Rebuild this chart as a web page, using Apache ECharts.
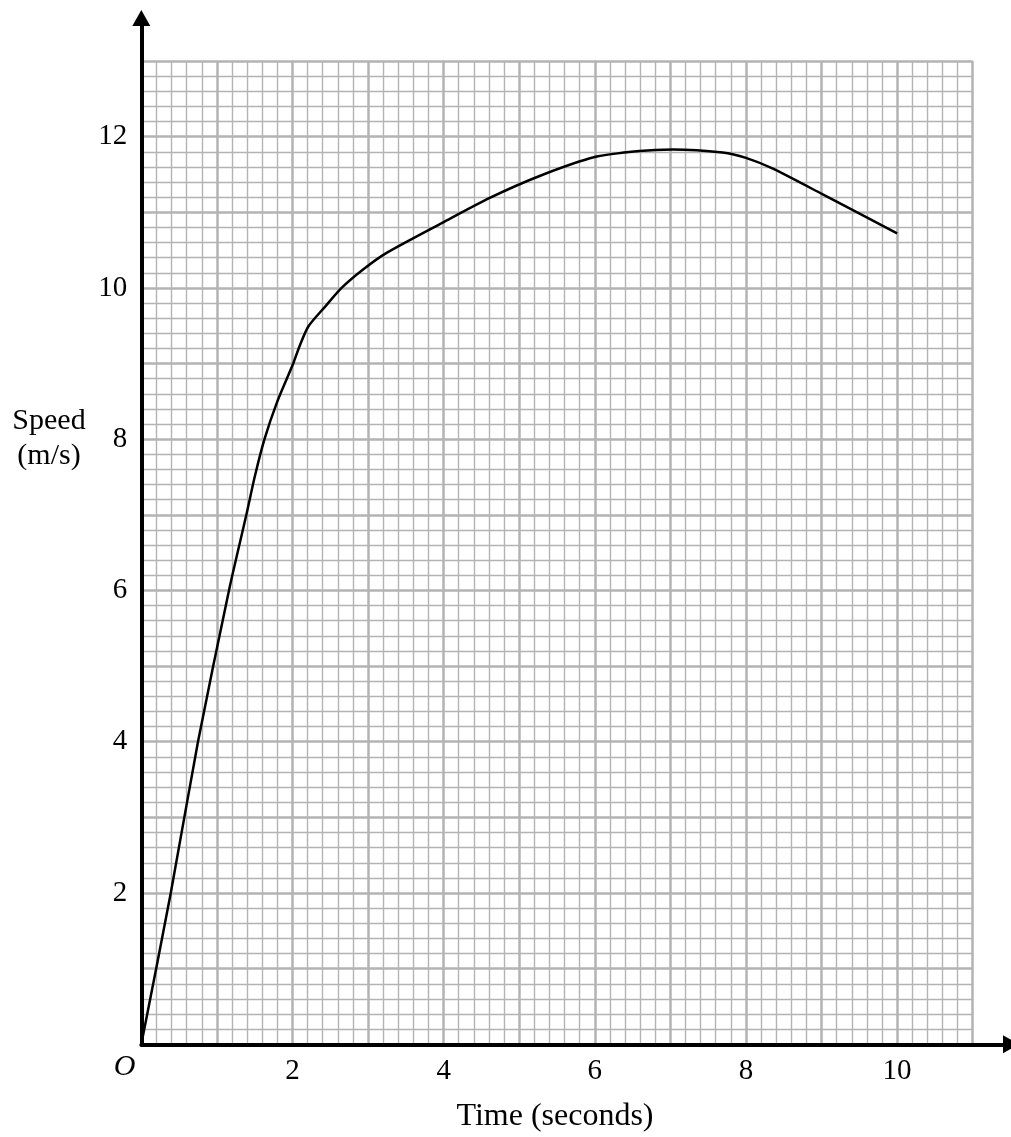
<!DOCTYPE html>
<html>
<head>
<meta charset="utf-8">
<script src="https://cdn.jsdelivr.net/npm/echarts@6/dist/echarts.min.js"></script>
<style>
html,body{margin:0;padding:0;background:#fff;}
#c{width:1011px;height:1137px;}
</style>
</head>
<body>
<div id="c"></div>
<script>
// Data
var timeValues  = [0, 0.39, 0.75, 1.16, 1.39, 1.50, 1.63, 1.80, 2.01, 2.09, 2.21, 2.43, 2.65, 2.93, 3.24, 4.0, 4.61, 5.27, 6.0, 6.59, 7.03, 7.69, 8.0, 8.35, 9.01, 10.0];
var speedValues = [0, 2.0, 4.0, 6.0, 7.0, 7.5, 8.0, 8.5, 9.0, 9.22, 9.49, 9.75, 10.0, 10.24, 10.46, 10.87, 11.19, 11.48, 11.73, 11.81, 11.83, 11.79, 11.72, 11.58, 11.24, 10.72];
var xTickLabels = [2, 4, 6, 8, 10];
var yTickLabels = [2, 4, 6, 8, 10, 12];

var curve = timeValues.map(function (t, i) { return [t, speedValues[i]]; });

var FONT = 'Liberation Serif';
var GRIDC = '#b3b3b3';

var chart = echarts.init(document.getElementById('c'), null, {renderer: 'canvas'});

var option = {
  backgroundColor: '#ffffff',
  animation: false,
  grid: [
    {left: 141.3, right: 38.3, top: 61, bottom: 92.7},
    {left: 141.3, right: -1, top: 61, bottom: 92.7},
    {left: 141.3, right: 38.3, top: 18, bottom: 92.7}
  ],
  xAxis: [
    {
      gridIndex: 0, type: 'value', min: 0, max: 11, interval: 1,
      axisLine: {show: false}, axisTick: {show: false},
      axisLabel: {
        margin: 13, fontFamily: FONT, fontSize: 29, color: '#000',
        formatter: function (v) { return xTickLabels.indexOf(v) >= 0 ? String(v) : ''; }
      },
      splitLine: {show: true, lineStyle: {color: GRIDC, width: 2.5}},
      minorTick: {show: false, splitNumber: 5},
      minorSplitLine: {show: true, lineStyle: {color: GRIDC, width: 1.4}}
    },
    {
      gridIndex: 1, type: 'value', min: 0, max: 1,
      axisLine: {show: true, onZero: false, symbol: ['none', 'triangle'], symbolSize: [18, 16],
        lineStyle: {color: '#000', width: 4}},
      axisTick: {show: false}, axisLabel: {show: false}, splitLine: {show: false}
    },
    {
      gridIndex: 2, type: 'value', min: 0, max: 1, show: false
    }
  ],
  yAxis: [
    {
      gridIndex: 0, type: 'value', min: 0, max: 13, interval: 1,
      axisLine: {show: false}, axisTick: {show: false},
      axisLabel: {
        margin: 14, fontFamily: FONT, fontSize: 29, color: '#000',
        formatter: function (v) { return yTickLabels.indexOf(v) >= 0 ? String(v) : ''; }
      },
      splitLine: {show: true, lineStyle: {color: GRIDC, width: 2.5}},
      minorTick: {show: false, splitNumber: 5},
      minorSplitLine: {show: true, lineStyle: {color: GRIDC, width: 1.4}}
    },
    {
      gridIndex: 1, type: 'value', min: 0, max: 1, show: false
    },
    {
      gridIndex: 2, type: 'value', min: 0, max: 1,
      axisLine: {show: true, onZero: false, symbol: ['none', 'triangle'], symbolSize: [18, 16],
        lineStyle: {color: '#000', width: 4}},
      axisTick: {show: false}, axisLabel: {show: false}, splitLine: {show: false}
    }
  ],
  series: [
    {
      type: 'line', xAxisIndex: 0, yAxisIndex: 0,
      data: curve, smooth: 0.25,
      showSymbol: false, symbol: 'none',
      lineStyle: {color: '#000', width: 2.5}, z: 5
    }
  ],
  graphic: [
    {type: 'text', x: 49, y: 421, z: 10,
      style: {text: 'Speed', font: '30px "Liberation Serif"', fill: '#000', textAlign: 'center', textVerticalAlign: 'middle'}},
    {type: 'text', x: 49, y: 456, z: 10,
      style: {text: '(m/s)', font: '30px "Liberation Serif"', fill: '#000', textAlign: 'center', textVerticalAlign: 'middle'}},
    {type: 'text', x: 124.5, y: 1067, z: 10,
      style: {text: 'O', font: 'italic 30px "Liberation Serif"', fill: '#000', textAlign: 'center', textVerticalAlign: 'middle'}},
    {type: 'text', x: 555, y: 1117, z: 10,
      style: {text: 'Time (seconds)', font: '32px "Liberation Serif"', fill: '#000', textAlign: 'center', textVerticalAlign: 'middle'}}
  ]
};
chart.setOption(option);
</script>
</body>
</html>
